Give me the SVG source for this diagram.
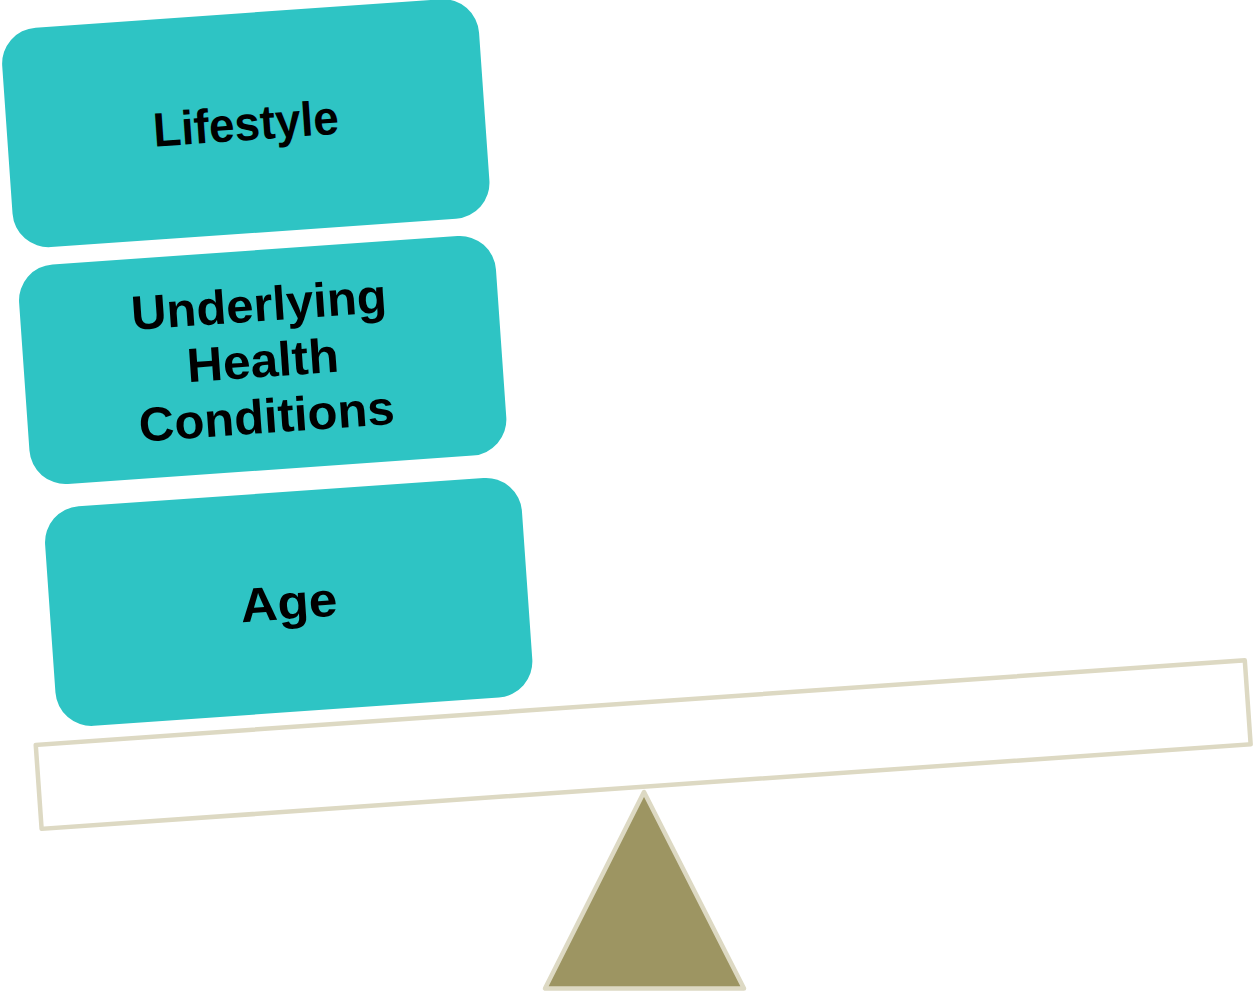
<svg xmlns="http://www.w3.org/2000/svg" width="1255" height="995" viewBox="0 0 1255 995">
  <style>
    .box { fill: #2EC4C4; }
    .lbl { font-family: "Liberation Sans", Arial, sans-serif; font-weight: bold; font-size: 48px; fill: #000000; text-anchor: middle; }
    .beige { stroke: #DDD9C3; stroke-width: 4.5; stroke-linejoin: round; }
  </style>
  <rect width="1255" height="995" fill="#FFFFFF"/>
  <g id="plank">
    <rect class="beige" x="-606" y="-42.1" width="1212" height="84.2" fill="#FFFFFF" transform="translate(643.2,744.6) rotate(-4)"/>
  </g>
  <g id="fulcrum">
    <polygon class="beige" points="644,792 545,988.5 744,988.5" fill="#9D9562"/>
  </g>
  <g id="box-lifestyle" transform="translate(245.8,123.2) rotate(-4)">
    <rect class="box" x="-239" y="-110" width="478" height="220" rx="36" ry="36"/>
    <text class="lbl" x="0" y="17" textLength="186" lengthAdjust="spacingAndGlyphs">Lifestyle</text>
  </g>
  <g id="box-conditions" transform="translate(262.7,360) rotate(-4)">
    <rect class="box" x="-239" y="-110" width="478" height="220" rx="36" ry="36"/>
    <text class="lbl" x="0" y="-39" textLength="256" lengthAdjust="spacingAndGlyphs">Underlying</text>
    <text class="lbl" x="0" y="17" textLength="152" lengthAdjust="spacingAndGlyphs">Health</text>
    <text class="lbl" x="0" y="73" textLength="256" lengthAdjust="spacingAndGlyphs">Conditions</text>
  </g>
  <g id="box-age" transform="translate(288.7,601.9) rotate(-4)">
    <rect class="box" x="-239" y="-110" width="478" height="220" rx="36" ry="36"/>
    <text class="lbl" x="0" y="17" textLength="97" lengthAdjust="spacingAndGlyphs">Age</text>
  </g>
  <g id="connectors"/>
</svg>
